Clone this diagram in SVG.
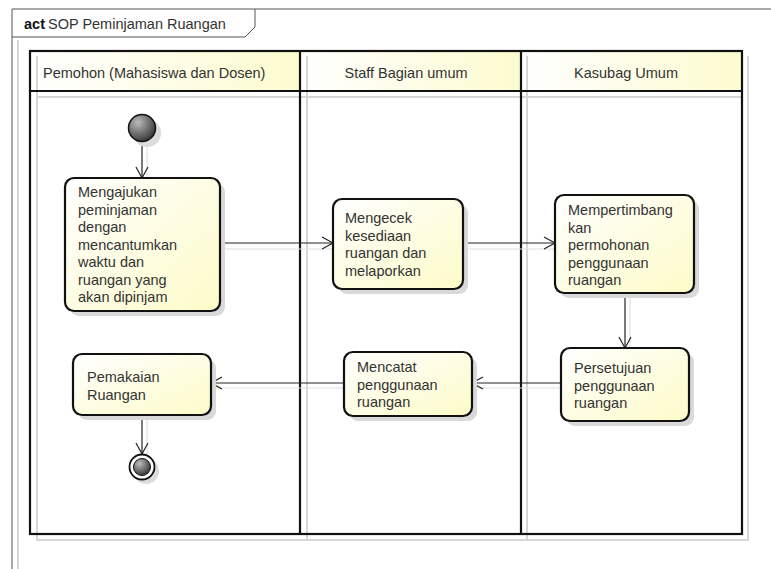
<svg xmlns="http://www.w3.org/2000/svg" width="771" height="569" viewBox="0 0 771 569">
<style>
text{font-family:"Liberation Sans",Arial,sans-serif;font-size:14.5px;fill:#333}
.lane{fill:none;stroke:#111;stroke-width:2.2}
.shd{stroke:#d6d6d6;stroke-width:2;fill:none}
.act{fill:url(#ng);stroke:#111;stroke-width:2.2}
.ashd{fill:#d9d9d9}
.con{stroke:#222;stroke-width:1.2;fill:none;marker-end:url(#ah)}
.cshd{stroke:#e0e0e0;stroke-width:1.2;fill:none}
</style>
<defs>
<linearGradient id="ng" x1="0" y1="0" x2="1" y2="1">
<stop offset="0" stop-color="#ffffff"/><stop offset="1" stop-color="#fdfbc8"/>
</linearGradient>
<linearGradient id="hg" x1="0" y1="0" x2="1" y2="0">
<stop offset="0" stop-color="#ffffff"/><stop offset="1" stop-color="#fdfbcf"/>
</linearGradient>
<radialGradient id="ig" cx="0.35" cy="0.3" r="0.75">
<stop offset="0" stop-color="#bcbcbc"/><stop offset="1" stop-color="#333"/>
</radialGradient>
<marker id="ah" markerWidth="14" markerHeight="14" refX="12" refY="7" orient="auto" markerUnits="userSpaceOnUse">
<path d="M1,1 L12,7 L1,13" fill="none" stroke="#222" stroke-width="1.2"/>
</marker>
</defs>

<g id="frame">
<line x1="18" y1="40" x2="18" y2="569" stroke="#d6d6d6" stroke-width="2"/>
<path d="M12,569 L12,9 L771,9" fill="none" stroke="#555" stroke-width="1"/>
<path d="M12,37 L245,37 L255,27 L255,9" fill="none" stroke="#555" stroke-width="1"/>
<text x="24" y="29" font-size="14px"><tspan font-weight="bold" fill="#111">act</tspan><tspan x="48">SOP Peminjaman Ruangan</tspan></text>
</g>

<g id="lanes">
<rect x="30" y="51" width="270" height="40" fill="url(#hg)"/>
<rect x="300" y="51" width="221" height="40" fill="url(#hg)"/>
<rect x="521" y="51" width="221" height="40" fill="url(#hg)"/>
<path class="shd" d="M37,56 L37,540 L748,540 L748,56"/>
<path class="shd" d="M37,97 L742,97"/>
<path class="shd" d="M307,56 L307,540 M527,56 L527,540"/>
<rect class="lane" x="30" y="51" width="712" height="483"/>
<line class="lane" x1="30" y1="91" x2="742" y2="91"/>
<line class="lane" x1="300" y1="51" x2="300" y2="534"/>
<line class="lane" x1="521" y1="51" x2="521" y2="534"/>
<text x="43" y="78">Pemohon (Mahasiswa dan Dosen)</text>
<text x="406" y="78" text-anchor="middle">Staff Bagian umum</text>
<text x="626" y="78" text-anchor="middle">Kasubag Umum</text>
</g>

<g id="connectors">
<path class="cshd" d="M147,146 L147,180 M220,249 L333,249 M463,249 L555,249 M630,297 L630,350 M561,388 L472,388 M344,388 L211,388 M147,419 L147,456"/>
<line class="con" x1="142" y1="142" x2="142" y2="178"/>
<line class="con" x1="220" y1="243" x2="333" y2="243"/>
<line class="con" x1="463" y1="243" x2="555" y2="243"/>
<line class="con" x1="625" y1="293" x2="625" y2="348"/>
<line class="con" x1="561" y1="383" x2="472" y2="383"/>
<line class="con" x1="344" y1="383" x2="211" y2="383"/>
<line class="con" x1="142" y1="415" x2="142" y2="454"/>
</g>

<g id="initial">
<circle cx="147" cy="133" r="14" fill="#dcdcdc"/>
<circle cx="142" cy="128" r="13.5" fill="url(#ig)" stroke="#111" stroke-width="1.5"/>
</g>

<g id="a1">
<rect class="ashd" x="70" y="183" width="155" height="133" rx="9"/>
<rect class="act" x="65" y="178" width="155" height="133" rx="9"/>
<text x="78"><tspan x="78" y="197">Mengajukan</tspan><tspan x="78" y="214.5">peminjaman</tspan><tspan x="78" y="232">dengan</tspan><tspan x="78" y="249.5">mencantumkan</tspan><tspan x="78" y="267">waktu dan</tspan><tspan x="78" y="284.5">ruangan yang</tspan><tspan x="78" y="302">akan dipinjam</tspan></text>
</g>

<g id="a2">
<rect class="ashd" x="338" y="204" width="130" height="90" rx="9"/>
<rect class="act" x="333" y="199" width="130" height="90" rx="9"/>
<text><tspan x="345" y="223">Mengecek</tspan><tspan x="345" y="240.5">kesediaan</tspan><tspan x="345" y="258">ruangan dan</tspan><tspan x="345" y="275.5">melaporkan</tspan></text>
</g>

<g id="a3">
<rect class="ashd" x="560" y="200" width="139" height="98" rx="9"/>
<rect class="act" x="555" y="195" width="139" height="98" rx="9"/>
<text><tspan x="568" y="215">Mempertimbang</tspan><tspan x="568" y="232.5">kan</tspan><tspan x="568" y="250">permohonan</tspan><tspan x="568" y="267.5">penggunaan</tspan><tspan x="568" y="285">ruangan</tspan></text>
</g>

<g id="a4">
<rect class="ashd" x="566" y="353" width="128" height="73" rx="9"/>
<rect class="act" x="561" y="348" width="128" height="73" rx="9"/>
<text><tspan x="574" y="373">Persetujuan</tspan><tspan x="574" y="390.5">penggunaan</tspan><tspan x="574" y="408">ruangan</tspan></text>
</g>

<g id="a5">
<rect class="ashd" x="349" y="357" width="128" height="64" rx="9"/>
<rect class="act" x="344" y="352" width="128" height="64" rx="9"/>
<text><tspan x="357" y="372">Mencatat</tspan><tspan x="357" y="389.5">penggunaan</tspan><tspan x="357" y="407">ruangan</tspan></text>
</g>

<g id="a6">
<rect class="ashd" x="78" y="359" width="138" height="61" rx="9"/>
<rect class="act" x="73" y="354" width="138" height="61" rx="9"/>
<text><tspan x="87" y="382">Pemakaian</tspan><tspan x="87" y="399.5">Ruangan</tspan></text>
</g>

<g id="final">
<circle cx="146" cy="471" r="13" fill="#dcdcdc"/>
<circle cx="142" cy="467" r="12.5" fill="#fff" stroke="#111" stroke-width="1.8"/>
<circle cx="142" cy="467" r="8.5" fill="url(#ig)" stroke="#111" stroke-width="1"/>
</g>
</svg>
